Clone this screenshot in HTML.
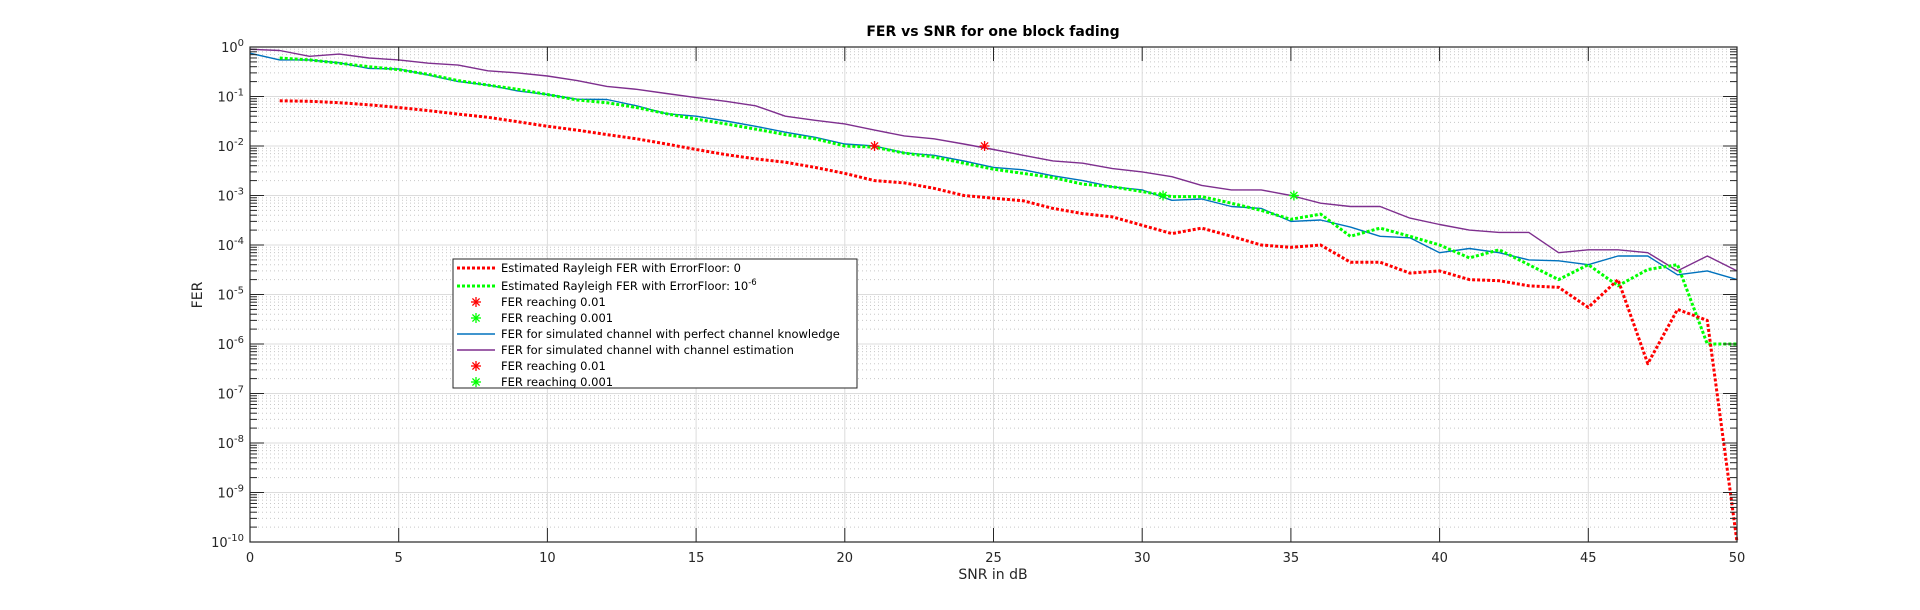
<!DOCTYPE html>
<html><head><meta charset="utf-8"><style>
html,body{margin:0;padding:0;background:#fff;}
svg{display:block;font-family:"DejaVu Sans","Liberation Sans",sans-serif;}
</style></head><body>
<svg id="chart" width="1920" height="610" viewBox="0 0 1920 610">
<rect width="1920" height="610" fill="#fff"/>
<g id="grid"></g>
<g id="series"></g>
<g id="axes"></g>
<text x="993" y="36" text-anchor="middle" font-size="14" font-weight="bold" fill="#000">FER vs SNR for one block fading</text>
<text x="993" y="579" text-anchor="middle" font-size="14" fill="#262626">SNR in dB</text>
<text x="0" y="0" transform="translate(202,295) rotate(-90)" text-anchor="middle" font-size="14" fill="#262626">FER</text>
<g id="legend"></g>
</svg>
<script>
const xTicks = [0,5,10,15,20,25,30,35,40,45,50];
const yDecades = [0,-1,-2,-3,-4,-5,-6,-7,-8,-9,-10];
const snrRed = [1,2,3,4,5,6,7,8,9,10,11,12,13,14,15,16,17,18,19,20,21,22,23,24,25,26,27,28,29,30,31,32,33,34,35,36,37,38,39,40,41,42,43,44,45,46,47,48,49,50];
const ferRed = [0.082,0.08,0.075,0.068,0.06,0.052,0.044,0.038,0.031,0.025,0.021,0.017,0.014,0.011,0.0085,0.0067,0.0055,0.0047,0.0037,0.0028,0.002,0.0018,0.0014,0.001,0.00088,0.00078,0.00055,0.00043,0.00037,0.00025,0.00017,0.00022,0.00015,0.0001,0.00009,0.0001,0.000045,0.000045,0.000027,0.00003,0.00002,0.000019,0.000015,0.000014,0.0000055,0.00002,4e-7,5e-6,3e-6,1e-10];
const snrGreen = snrRed.slice();
const ferGreen = [0.6,0.55,0.47,0.4,0.35,0.28,0.21,0.17,0.14,0.11,0.085,0.075,0.06,0.045,0.035,0.028,0.022,0.017,0.014,0.01,0.0095,0.0072,0.006,0.0045,0.0034,0.0028,0.0023,0.0017,0.0015,0.0012,0.00095,0.00095,0.0007,0.0005,0.00033,0.00042,0.00015,0.00022,0.00015,0.0001,0.000055,0.00008,0.00004,0.00002,0.00004,0.000015,0.000032,0.00004,1e-6,1e-6];
const snrSim = [0,1,2,3,4,5,6,7,8,9,10,11,12,13,14,15,16,17,18,19,20,21,22,23,24,25,26,27,28,29,30,31,32,33,34,35,36,37,38,39,40,41,42,43,44,45,46,47,48,49,50];
const ferPerfect = [0.75,0.55,0.55,0.48,0.37,0.36,0.27,0.2,0.17,0.13,0.11,0.088,0.087,0.065,0.045,0.04,0.032,0.025,0.019,0.015,0.011,0.01,0.0073,0.0065,0.005,0.0037,0.0033,0.0025,0.002,0.0015,0.0013,0.0008,0.00085,0.0006,0.00055,0.0003,0.00032,0.00023,0.00015,0.00014,0.00007,0.000085,0.00007,0.00005,0.000048,0.00004,0.00006,0.00006,0.000025,0.00003,0.00002];
const ferEstimated = [0.9,0.85,0.65,0.72,0.6,0.55,0.47,0.43,0.33,0.3,0.26,0.21,0.16,0.14,0.115,0.095,0.08,0.065,0.04,0.033,0.028,0.021,0.016,0.014,0.011,0.0085,0.0065,0.005,0.0045,0.0035,0.003,0.0024,0.0016,0.0013,0.0013,0.001,0.0007,0.0006,0.0006,0.00035,0.00026,0.0002,0.00018,0.00018,0.00007,0.00008,0.00008,0.00007,0.00003,0.00006,0.00003];
const markRedX = [21,24.7];
const markRedY = [0.01,0.01];
const markGreenX = [30.7,35.1];
const markGreenY = [0.001,0.001];

const NS="http://www.w3.org/2000/svg";
const L=250,R=1737,T=47,B=542;
const X=v=>L+(v-0)/(50-0)*(R-L);
const Y=v=>T+(0-Math.log10(v))/10*(B-T);
function mk(tag,attrs,parent){const e=document.createElementNS(NS,tag);for(const k in attrs)e.setAttribute(k,attrs[k]);parent.appendChild(e);return e;}
const grid=document.getElementById('grid'),axes=document.getElementById('axes'),ser=document.getElementById('series'),leg=document.getElementById('legend');

// grid
for(const d of yDecades){
  const g=mk('line',{x1:L,x2:R,y1:Y(Math.pow(10,d)),y2:Y(Math.pow(10,d)),stroke:'#dcdcdc','stroke-width':1},grid);
  
  
  if(d>-10){for(let m=2;m<=9;m++){const v=m*Math.pow(10,d-1);
    const mg=mk('line',{x1:L,x2:R,y1:Y(v),y2:Y(v),stroke:'#c8c8c8','stroke-width':1,'stroke-dasharray':'1 3'},grid);
    
    
    for(const ax of [[L,L+7],[R,R-7]]){const tk=mk('line',{x1:ax[0],x2:ax[1],y1:Y(v),y2:Y(v),stroke:'#262626','stroke-width':1},axes);
      
      }
  }}
  for(const ax of [[L,L+14],[R,R-14]]){const tk=mk('line',{x1:ax[0],x2:ax[1],y1:Y(Math.pow(10,d)),y2:Y(Math.pow(10,d)),stroke:'#262626','stroke-width':1},axes);
    
    }
  const t=mk('text',{x:L-6,y:Y(Math.pow(10,d))+5,'text-anchor':'end','font-size':13,fill:'#262626'},axes);
  
  
  t.appendChild(document.createTextNode('10'));
  const s=mk('tspan',{dy:-6,'font-size':10},t);s.textContent=String(d);
}
for(const x of xTicks){
  const g=mk('line',{x1:X(x),x2:X(x),y1:T,y2:B,stroke:'#dcdcdc','stroke-width':1},grid);
  
  
  for(const ax of [[B,B-14],[T,T+14]]){const tk=mk('line',{x1:X(x),x2:X(x),y1:ax[0],y2:ax[1],stroke:'#262626','stroke-width':1},axes);
    
    }
  const t=mk('text',{x:X(x),y:562,'text-anchor':'middle','font-size':13,fill:'#262626'},axes);
  
  
  t.textContent=String(x);
}
const box=mk('rect',{x:L,y:T,width:R-L,height:B-T,fill:'none',stroke:'#262626','stroke-width':1.2},axes);



function line(xs,ys,color,w,dash,name){
  const pts=xs.map((x,i)=>X(x).toFixed(1)+','+Y(ys[i]).toFixed(1)).join(' ');
  const a={points:pts,fill:'none',stroke:color,'stroke-width':w,'stroke-linejoin':'round'};
  if(dash)a['stroke-dasharray']=dash;
  const p=mk('polyline',a,ser);
  
  
}
function star(cx,cy,color,parent,name){
  const g=mk('g',{stroke:color,'stroke-width':1.3},parent);
  
  
  const r=5;
  mk('line',{x1:cx-r,x2:cx+r,y1:cy,y2:cy},g);
  mk('line',{x1:cx,x2:cx,y1:cy-r,y2:cy+r},g);
  mk('line',{x1:cx-3.6,x2:cx+3.6,y1:cy-3.6,y2:cy+3.6},g);
  mk('line',{x1:cx-3.6,x2:cx+3.6,y1:cy+3.6,y2:cy-3.6},g);
}
line(snrSim,ferPerfect,'#0072BD',1.4,null,'series-perfect-channel-knowledge');
line(snrSim,ferEstimated,'#7E2F8E',1.4,null,'series-channel-estimation');
line(snrGreen,ferGreen,'#00FF00',3,'3 2','series-errorfloor-1e-6');
line(snrRed,ferRed,'#FF0000',3,'3 2','series-errorfloor-0');
markRedX.forEach((x,i)=>star(X(x),Y(markRedY[i]),'#FF0000',ser,'marker-fer-0.01'));
markGreenX.forEach((x,i)=>star(X(x),Y(markGreenY[i]),'#00FF00',ser,'marker-fer-0.001'));

// legend
const lb=mk('rect',{x:453,y:259,width:404,height:129,fill:'#fff',stroke:'#262626','stroke-width':1},leg);


const items=[
 ['line','#FF0000',3,'3 2','Estimated Rayleigh FER with ErrorFloor: 0',null],
 ['line','#00FF00',3,'3 2','Estimated Rayleigh FER with ErrorFloor: 10','-6'],
 ['star','#FF0000',0,null,'FER reaching 0.01',null],
 ['star','#00FF00',0,null,'FER reaching 0.001',null],
 ['line','#0072BD',1.4,null,'FER for simulated channel with perfect channel knowledge',null],
 ['line','#7E2F8E',1.4,null,'FER for simulated channel with channel estimation',null],
 ['star','#FF0000',0,null,'FER reaching 0.01',null],
 ['star','#00FF00',0,null,'FER reaching 0.001',null]];
const rowY=[268,286,302,318,334,350,366,382];
items.forEach((it,i)=>{
  const y=rowY[i];
  if(it[0]==='line'){const a={x1:457,x2:495,y1:y,y2:y,stroke:it[1],'stroke-width':it[2]};if(it[3])a['stroke-dasharray']=it[3];
    const l=mk('line',a,leg);
    
    }
  else star(476,y,it[1],leg,'legend-marker');
  const t=mk('text',{x:501,y:y+4,'font-size':11.5,fill:'#000'},leg);
  
  
  t.appendChild(document.createTextNode(it[4]));
  if(it[5]){const s=mk('tspan',{dy:-5,'font-size':8.5},t);s.textContent=it[5];}
});
</script>
</body></html>
